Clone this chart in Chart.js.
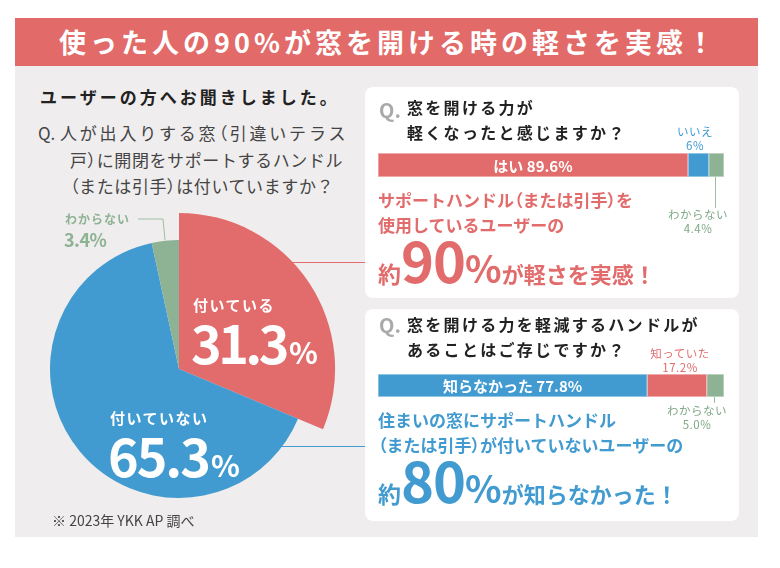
<!DOCTYPE html>
<html lang="ja">
<head>
  <meta charset="UTF-8">
  <title>窓を開ける時の軽さ</title>
  <script src="https://cdn.jsdelivr.net/npm/chart.js"></script>
  <style>
    body {
      margin: 0;
      background: #fff;
      font-family: "Noto Sans CJK JP", "Noto Sans", sans-serif;
    }
    #page {
      position: relative;
      width: 780px;
      height: 568px;
      overflow: hidden;
    }
    .abs { position: absolute; white-space: nowrap; }
    .p { font-feature-settings: "palt"; }
    #header {
      left: 15px; top: 18px; width: 743px; height: 48px;
      background: #e26a69;
      color: #fff;
      font-weight: bold;
      font-size: 27px;
      letter-spacing: 4px;
      text-align: center;
      line-height: 48px;
      padding-left: 4px;
      box-sizing: border-box;
    }
    #panel {
      left: 15px; top: 66px; width: 743px; height: 471px;
      background: #efeded;
    }
    .card {
      position: absolute;
      left: 365px; width: 374px;
      background: #fff;
      border-radius: 8px;
    }
    .qmark { color: #a9a9a9; font-weight: bold; font-size: 20px; line-height: 24px; }
    .qtext { color: #222; font-weight: bold; font-size: 16px; letter-spacing: 2.3px; line-height: 25px; }
    .lead { font-weight: bold; font-size: 17px; line-height: 25px; }
    .small { font-size: 11.5px; line-height: 14px; text-align: center; letter-spacing: 0.5px; }
    .hline { position: absolute; height: 1px; }
    .vline { position: absolute; width: 1px; }
    .big { font-weight: bold; line-height: 1; }
  </style>
</head>
<body>
<div id="page">
  <div id="header" class="abs">使った人の90%が窓を開ける時の軽さを実感！</div>
  <div id="panel" class="abs"></div>

  <!-- leader lines from pie to cards -->
  <div class="hline" style="left:290px; top:262px; width:75px; background:#e26b6b;"></div>
  <div class="hline" style="left:280px; top:446px; width:85px; background:#419bd0;"></div>

  <!-- left side texts -->
  <div class="abs" style="left:40px; top:85px; font-size:17px; font-weight:bold; letter-spacing:3px; color:#222; line-height:24px;">ユーザーの方へお聞きしました。</div>
  <div class="abs" style="left:38px; top:120px; font-size:17px; color:#444; line-height:26.5px;">
    <div style="letter-spacing:2.8px;"><span style="display:inline-block; width:22px; letter-spacing:0;">Q.</span>人が出入りする窓<span class="p">（</span>引違いテラス</div>
    <div style="padding-left:32px; letter-spacing:0.6px;">戸<span class="p">）</span>に開閉をサポートするハンドル</div>
    <div style="padding-left:32px; letter-spacing:0.6px;"><span class="p">（</span>または引手<span class="p">）</span>は付いていますか？</div>
  </div>

  <!-- pie chart -->
  <div class="abs" style="left:9px; top:199px; width:340px; height:340px;">
    <canvas id="pieChart"></canvas>
  </div>
  <div id="pieLabels"></div>
  <svg class="abs" style="left:0; top:0;" width="780" height="568">
    <polyline points="138,219 163,219 165,240" fill="none" stroke="#9dbfa3" stroke-width="1"/>
  </svg>
  <div class="abs" style="left:52px; top:510px; font-size:14px; color:#444; line-height:20px;">※ 2023年 YKK AP 調べ</div>

  <!-- card 1 -->
  <div class="card" style="top:87px; height:211px;"></div>
  <div class="abs qmark" style="left:379px; top:98px;">Q.</div>
  <div class="abs qtext" style="left:407px; top:95px;">窓を開ける力が<br>軽くなったと感じますか？</div>
  <div class="abs" style="left:378px; top:153px; width:346px; height:24px;">
    <canvas id="barOne"></canvas>
  </div>
  <div id="barOneLabels"></div>
  <div class="abs lead" style="left:378px; top:187px; color:#e26b6b;">サポートハンドル<span class="p">（</span>または引手<span class="p">）</span>を<br>使用しているユーザーの</div>
  <div class="abs big" style="left:378px; top:231px; color:#e26b6b;">
    <span style="font-size:23px;">約</span><span style="font-size:56px; letter-spacing:-1px;">90</span><span style="font-size:38px;">%</span><span style="font-size:22px;">が軽さを実感！</span>
  </div>

  <!-- card 2 -->
  <div class="card" style="top:309px; height:212px;"></div>
  <div class="abs qmark" style="left:379px; top:313px;">Q.</div>
  <div class="abs qtext" style="left:407px; top:312px;">窓を開ける力を軽減するハンドルが<br>あることはご存じですか？</div>
  <div class="abs" style="left:378px; top:374px; width:346px; height:23px;">
    <canvas id="barTwo"></canvas>
  </div>
  <div id="barTwoLabels"></div>
  <div class="abs lead" style="left:378px; top:407px; color:#419bd0;">住まいの窓にサポートハンドル<br><span class="p">（</span>または引手<span class="p">）</span>が付いていないユーザーの</div>
  <div class="abs big" style="left:378px; top:451px; color:#419bd0;">
    <span style="font-size:23px;">約</span><span style="font-size:56px; letter-spacing:-1px;">80</span><span style="font-size:38px;">%</span><span style="font-size:22px;">が知らなかった！</span>
  </div>
</div>

<script>
  // pie: 付いていますか？
  const pieLabels = ['付いている', '付いていない', 'わからない'];
  const pieValues = [31.3, 65.3, 3.4];
  const pieColors = ['#e26b6b', '#419bd0', '#8db294'];

  // bar 1: 軽くなったと感じますか？
  const barOneLabels = ['はい', 'いいえ', 'わからない'];
  const barOneValues = [89.6, 6, 4.4];
  const barOneColors = ['#e26b6b', '#419bd0', '#8db294'];

  // bar 2: ご存じですか？
  const barTwoLabels = ['知らなかった', '知っていた', 'わからない'];
  const barTwoValues = [77.8, 17.2, 5.0];
  const barTwoColors = ['#419bd0', '#e26b6b', '#8db294'];

  const jpFont = '"Noto Sans CJK JP", sans-serif';

  // red slice is drawn larger than the rest
  const bigSlice = {
    id: 'bigSlice',
    beforeDatasetsDraw(chart) {
      const meta = chart.getDatasetMeta(0);
      meta.data[0].outerRadius = meta.data[1].outerRadius * 1.21;
    }
  };

  new Chart(document.getElementById('pieChart'), {
    type: 'pie',
    data: {
      labels: pieLabels,
      datasets: [{
        data: pieValues,
        backgroundColor: pieColors,
        borderWidth: 0,
        clip: false
      }]
    },
    options: {
      responsive: true,
      maintainAspectRatio: false,
      animation: false,
      layout: { padding: 41 },
      plugins: { legend: { display: false }, tooltip: { enabled: false } }
    },
    plugins: [bigSlice]
  });

  // text inside the first segment of a stacked bar
  const segmentText = {
    id: 'segmentText',
    afterDatasetsDraw(chart) {
      const bar = chart.getDatasetMeta(0).data[0];
      const ds = chart.data.datasets[0];
      const ctx = chart.ctx;
      ctx.save();
      ctx.fillStyle = '#fff';
      ctx.font = 'bold 15px ' + jpFont;
      ctx.textAlign = 'center';
      ctx.textBaseline = 'middle';
      ctx.fillText(ds.label + ' ' + ds.data[0] + '%', (bar.x + bar.base) / 2, bar.y + 1);
      ctx.restore();
    }
  };

  function lighten(hex) {
    const n = parseInt(hex.slice(1), 16);
    const r = (n >> 16) & 255, g = (n >> 8) & 255, b = n & 255;
    const mix = c => Math.round(c + (255 - c) * 0.55);
    return `rgb(${mix(r)}, ${mix(g)}, ${mix(b)})`;
  }

  function renderBar(id, labels, values, colors) {
    new Chart(document.getElementById(id), {
      type: 'bar',
      data: {
        labels: ['q'],
        datasets: labels.map((label, i) => ({
          label: label,
          data: [values[i]],
          backgroundColor: colors[i],
          borderColor: lighten(colors[i]),
          borderWidth: 1,
          borderSkipped: false,
          barPercentage: 1,
          categoryPercentage: 1
        }))
      },
      options: {
        indexAxis: 'y',
        responsive: true,
        maintainAspectRatio: false,
        animation: false,
        layout: { padding: 0 },
        scales: {
          x: { stacked: true, min: 0, max: 100, display: false },
          y: { stacked: true, display: false }
        },
        plugins: { legend: { display: false }, tooltip: { enabled: false } }
      },
      plugins: [segmentText]
    });
  }

  renderBar('barOne', barOneLabels, barOneValues, barOneColors);
  renderBar('barTwo', barTwoLabels, barTwoValues, barTwoColors);

  // small labels outside the bars
  function place(containerId, items) {
    const box = document.getElementById(containerId);
    items.forEach(it => {
      const d = document.createElement('div');
      d.className = 'abs ' + (it.cls || '');
      d.style.cssText += it.style;
      d.innerHTML = it.html;
      box.appendChild(d);
    });
  }

  place('barOneLabels', [
    { cls: 'small', style: 'left:655px; top:124px; width:80px; color:#419bd0;',
      html: barOneLabels[1] + '<br>' + barOneValues[1] + '%' },
    { cls: 'small', style: 'left:658px; top:207px; width:80px; color:#7fa886;',
      html: barOneLabels[2] + '<br>' + barOneValues[2] + '%' },
    { cls: 'vline', style: 'left:715px; top:177px; height:31px; background:#9dbfa3;', html: '' }
  ]);

  place('barTwoLabels', [
    { cls: 'small', style: 'left:640px; top:346px; width:80px; color:#e26b6b;',
      html: barTwoLabels[1] + '<br>' + barTwoValues[1] + '%' },
    { cls: 'small', style: 'left:657px; top:403px; width:80px; color:#7fa886;',
      html: barTwoLabels[2] + '<br>' + barTwoValues[2].toFixed(1) + '%' },
    { cls: 'vline', style: 'left:714px; top:397px; height:6px; background:#9dbfa3;', html: '' }
  ]);

  // labels on the pie
  const pctBig = 'font-weight:bold; line-height:1;';
  place('pieLabels', [
    { style: 'left:193px; top:296px; color:#fff; font-weight:bold; font-size:15px; letter-spacing:1.5px; line-height:18px;',
      html: pieLabels[0] },
    { style: 'left:191px; top:316px; color:#fff;' + pctBig,
      html: '<span style="font-size:52px; letter-spacing:-3.5px;">' + pieValues[0] + '</span><span style="font-size:30px; margin-left:3px;">%</span>' },
    { style: 'left:110px; top:409px; color:#fff; font-weight:bold; font-size:15px; letter-spacing:1.5px; line-height:18px;',
      html: pieLabels[1] },
    { style: 'left:108px; top:429px; color:#fff;' + pctBig,
      html: '<span style="font-size:52px; letter-spacing:-2px;">' + pieValues[1] + '</span><span style="font-size:30px; margin-left:2px;">%</span>' },
    { style: 'left:65px; top:211px; color:#8db294; font-weight:bold; font-size:12px; letter-spacing:1px; line-height:16px;',
      html: pieLabels[2] },
    { style: 'left:64px; top:229px; color:#8db294; font-weight:bold; font-size:18px; line-height:20px; letter-spacing:-0.5px;',
      html: pieValues[2] + '%' }
  ]);
</script>
</body>
</html>
